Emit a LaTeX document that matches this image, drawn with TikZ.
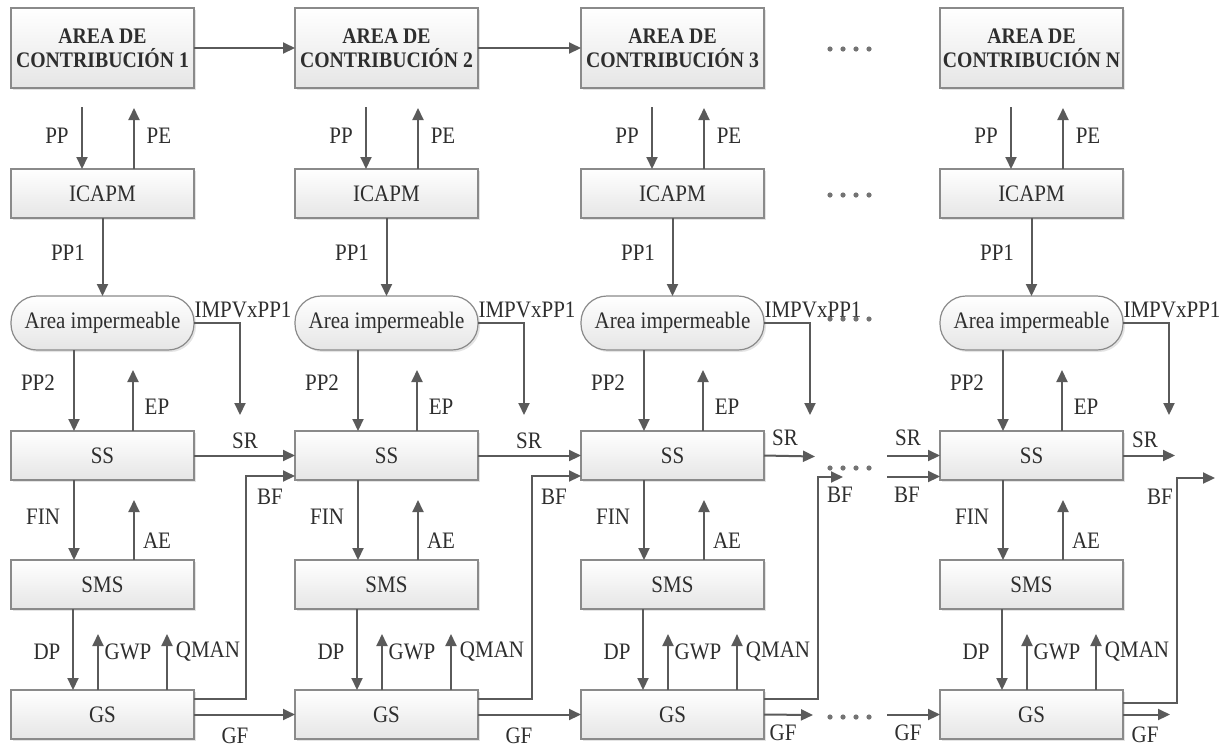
\documentclass[tikz,border=0pt]{standalone}
\usepackage{fontspec}
\setmainfont{Liberation Serif}[FakeStretch=0.89]
\usetikzlibrary{arrows.meta,shadows,calc}
\definecolor{ln}{HTML}{5A5A5A}
\definecolor{bd}{HTML}{8A8A8A}
\definecolor{tx}{HTML}{2E2E2E}
\tikzset{
  box/.style={draw=bd, line width=0.6pt, top color=white, bottom color=black!10,
    minimum width=91.5pt, inner sep=0pt, outer sep=0pt, text=tx,
    font=\fontsize{11.8}{14}\selectfont,
    drop shadow={shadow xshift=1pt, shadow yshift=-1pt, opacity=0.3, fill=black!35}},
  areabox/.style={box, minimum height=40pt, align=center,
    font=\bfseries\fontsize{11.1}{12}\selectfont},
  rowbox/.style={box, minimum height=24.5pt},
  impbox/.style={box, minimum height=27pt, rounded corners=13pt},
  lbl/.style={text=tx, inner sep=0pt, font=\fontsize{11.8}{14}\selectfont},
  arr/.style={draw=ln, line width=1pt, -{Triangle[length=6pt,width=5.5pt]}},
  ln/.style={draw=ln, line width=1pt},
}
\begin{document}
\begin{tikzpicture}[x=0.5pt,y=-0.5pt]
\useasboundingbox (0,0) rectangle (1230,746);
% columns
\foreach \k/\L/\t in {1/11/1,2/295/2,3/581/3,4/940/N}{
  \node[areabox] (a\k) at (\L+91.5,48) {AREA DE\\CONTRIBUCIÓN \t};
  \node[rowbox] (i\k) at (\L+91.5,193.5) {ICAPM};
  \node[impbox] (r\k) at (\L+91.5,323) {Area impermeable};
  \node[rowbox] (s\k) at (\L+91.5,455.5) {SS};
  \node[rowbox] (m\k) at (\L+91.5,584.5) {SMS};
  \node[rowbox] (g\k) at (\L+91.5,714.5) {GS};
  % PP / PE
  \coordinate (pp\k) at (\L+71,107);
  \coordinate (pe\k) at (\L+123,108);
  \draw[arr] (pp\k) -- (pp\k |- i\k.north);
  \draw[arr] (pe\k |- i\k.north) -- (pe\k);
  \node[lbl] (lpp\k) at (\L+46,135.5) {PP};
  \node[lbl] (lpe\k) at (\L+148,135.5) {PE};
  % PP1
  \draw[arr] (i\k) -- (r\k);
  \node[lbl] (lpa\k) at (\L+57,253) {PP1};
  % PP2 / EP
  \coordinate (pq\k) at (\L+63,400);
  \coordinate (ep\k) at (\L+122,370);
  \draw[arr] (pq\k |- r\k.south) -- (pq\k |- s\k.north);
  \draw[arr] (ep\k |- s\k.north) -- (ep\k);
  \node[lbl] (lpq\k) at (\L+27,383) {PP2};
  \node[lbl] (lep\k) at (\L+146,407) {EP};
  % IMPVxPP1
  \coordinate (im\k) at (\L+229,415);
  \draw[arr] (r\k.east) -| (im\k);
  \node[lbl] (lim\k) at (\L+232,310) {IMPVxPP1};
  % FIN / AE
  \coordinate (fi\k) at (\L+63,520);
  \coordinate (ae\k) at (\L+123,500);
  \draw[arr] (fi\k |- s\k.south) -- (fi\k |- m\k.north);
  \draw[arr] (ae\k |- m\k.north) -- (ae\k);
  \node[lbl] (lfi\k) at (\L+32,517) {FIN};
  \node[lbl] (lae\k) at (\L+146,541) {AE};
  % DP / GWP / QMAN
  \coordinate (dp\k) at (\L+62,650);
  \coordinate (gw\k) at (\L+87,634);
  \coordinate (qm\k) at (\L+156,634);
  \draw[arr] (dp\k |- m\k.south) -- (dp\k |- g\k.north);
  \draw[arr] (gw\k |- g\k.north) -- (gw\k);
  \draw[arr] (qm\k |- g\k.north) -- (qm\k);
  \node[lbl] (ldp\k) at (\L+36,652) {DP};
  \node[lbl] (lgw\k) at (\L+117,652) {GWP};
  \node[lbl] (lqm\k) at (\L+197,652) {QMAN};
}
% links between consecutive columns
\foreach \k/\n/\L in {1/2/11,2/3/295}{
  \draw[arr] (a\k.east) -- (a\n.west);
  \draw[arr] (s\k.east) -- (s\n.west);
  \node[lbl] (lsr\k) at (\L+234,441) {SR};
  \draw[arr] ([yshift=8pt]g\k.east) -| ([xshift=-24.5pt,yshift=-10.25pt]s\n.west) -- ([yshift=-10.25pt]s\n.west);
  \node[lbl] (lbf\k) at (\L+259,497) {BF};
  \draw[arr] (g\k.east) -- (g\n.west);
  \node[lbl] (lgf\k) at (\L+224,736) {GF};
}
% column 3 outputs
\coordinate (sr3e) at (815,456.5);
\coordinate (bf3c) at (818,477);
\coordinate (bf3e) at (843,477);
\coordinate (gf3e) at (813,715);
\draw[arr] (s3.east) -- (sr3e);
\draw[arr] ([yshift=8pt]g3.east) -| (bf3c) -- (bf3e);
\draw[arr] (g3.east) -- (gf3e);
\node[lbl] (lsr3) at (785,438) {SR};
\node[lbl] (lbf3) at (840,495) {BF};
\node[lbl] (lgf3) at (783,733) {GF};
% column N inputs
\coordinate (sr4i) at (887,455.5);
\coordinate (bf4i) at (887,476.5);
\coordinate (gf4i) at (887,714.5);
\draw[arr] (sr4i) -- (s4.west);
\draw[arr] (bf4i) -- (bf4i -| s4.west);
\draw[arr] (gf4i) -- (g4.west);
\node[lbl] (lsr4i) at (908,438) {SR};
\node[lbl] (lbf4i) at (907,495) {BF};
\node[lbl] (lgf4i) at (908,733) {GF};
% column N outputs
\coordinate (sr4e) at (1175,455.5);
\coordinate (bf4c) at (1177,478);
\coordinate (bf4e) at (1215,478);
\coordinate (gf4e) at (1170,714.5);
\draw[arr] (s4.east) -- (sr4e);
\draw[arr] ([yshift=6pt]g4.east) -| (bf4c) -- (bf4e);
\draw[arr] (g4.east) -- (gf4e);
\node[lbl] (lsr4) at (1145,440) {SR};
\node[lbl] (lbf4) at (1160,497) {BF};
\node[lbl] (lgf4) at (1145,735) {GF};
% ellipsis dots
\foreach \y in {49,195,319,468,717}{
  \foreach \x in {830,843,856,869}{
    \fill[ln!85] (\x,\y) circle (1.3pt);
  }
}
\end{tikzpicture}
\end{document}
